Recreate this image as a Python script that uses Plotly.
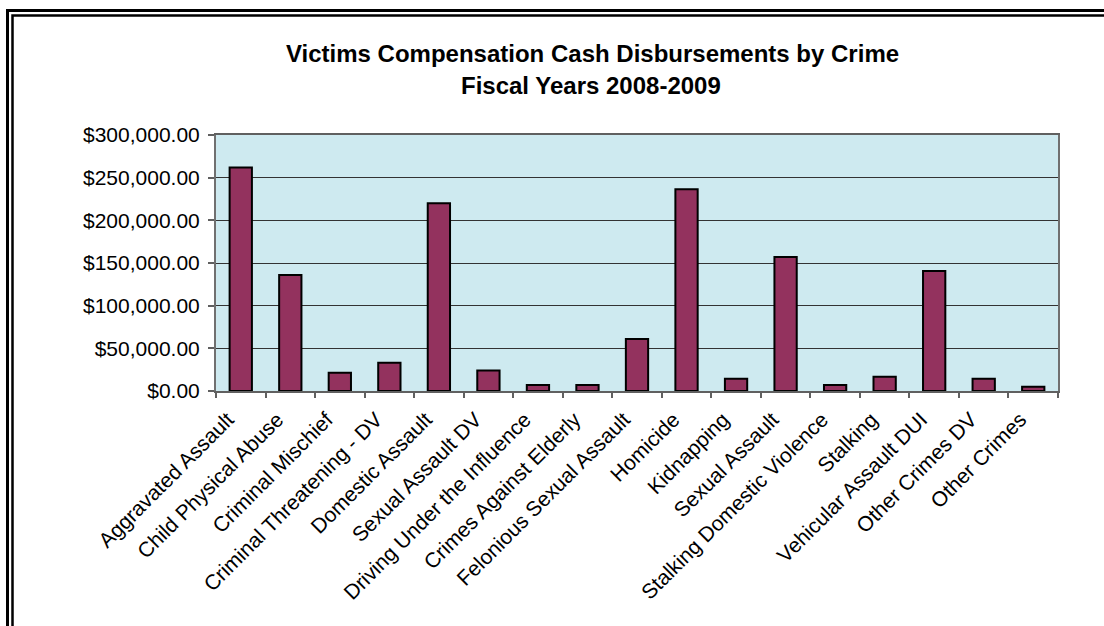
import plotly.graph_objects as go

categories = [
    "Aggravated Assault", "Child Physical Abuse", "Criminal Mischief",
    "Criminal Threatening - DV", "Domestic Assault", "Sexual Assault DV",
    "Driving Under the Influence", "Crimes Against Elderly",
    "Felonious Sexual Assault", "Homicide", "Kidnapping", "Sexual Assault",
    "Stalking Domestic Violence", "Stalking", "Vehicular Assault DUI",
    "Other Crimes DV", "Other Crimes",
]
amounts = [262000, 136000, 21500, 33000, 220000, 24000, 7000, 7000,
           61000, 236500, 14500, 157000, 7000, 16800, 140500, 14500, 5000]
y_ticks = [0, 50000, 100000, 150000, 200000, 250000, 300000]

title_lines = ["Victims Compensation Cash Disbursements by Crime", "Fiscal Years 2008-2009"]

W, H = 1104, 626
# plot area in pixels
X0, X1, Y0, Y1 = 216, 1058, 135, 391
L, T = X0, Y0
R, B = W - X1, H - Y1
pw, ph = X1 - X0, Y1 - Y0

def px(x):
    return (x - X0) / pw

def py(y):
    return (Y1 - y) / ph

FONT = "Liberation Sans, Arial, sans-serif"

fig = go.Figure(go.Bar(
    x=categories, y=amounts,
    marker=dict(color="#93325E", line=dict(color="#000000", width=2)),
))

fig.update_layout(
    width=W, height=H,
    margin=dict(l=L, r=R, t=T, b=B),
    paper_bgcolor="#FFFFFF",
    plot_bgcolor="#CEEAF0",
    bargap=0.55,
    showlegend=False,
    font=dict(family=FONT, size=21, color="#000000"),
    xaxis=dict(
        tickangle=-45,
        tickson="boundaries",
        ticks="outside", ticklen=5, tickcolor="#606060", tickwidth=1.5,
        showline=True, linecolor="#606060", linewidth=2, mirror=True,
        showgrid=False,
        tickfont=dict(family=FONT, size=21, color="#000000"),
        ticklabelstandoff=6,
        ticklabelshift=-13,
    ),
    yaxis=dict(
        range=[0, 300000],
        tickvals=y_ticks,
        tickformat="$,.2f",
        ticks="outside", ticklen=6, tickcolor="#606060", tickwidth=1.5,
        showline=True, linecolor="#707070", linewidth=2, mirror=True,
        showgrid=True, gridcolor="#333333", gridwidth=1,
        zeroline=False,
        tickfont=dict(family=FONT, size=21, color="#000000"),
        ticklabelstandoff=4,
    ),
    annotations=[
        dict(text="<b>" + title_lines[0] + "</b>", xref="paper", yref="paper",
             x=px(592), y=py(53), xanchor="center", yanchor="middle",
             showarrow=False, font=dict(family=FONT, size=24, color="#000000")),
        dict(text="<b>" + title_lines[1] + "</b>", xref="paper", yref="paper",
             x=px(591), y=py(85), xanchor="center", yanchor="middle",
             showarrow=False, font=dict(family=FONT, size=24, color="#000000")),
    ],
    shapes=[
        dict(type="path", xref="paper", yref="paper",
             path=f"M {px(7.5)} {py(700)} L {px(7.5)} {py(10.5)} L {px(1200)} {py(10.5)}",
             line=dict(color="#000000", width=3)),
        dict(type="path", xref="paper", yref="paper",
             path=f"M {px(12.5)} {py(700)} L {px(12.5)} {py(15.5)} L {px(1200)} {py(15.5)}",
             line=dict(color="#000000", width=2.5)),
    ],
)

fig.write_html("out.html", config={"displayModeBar": False},
               post_script="document.body.style.margin='0';")
